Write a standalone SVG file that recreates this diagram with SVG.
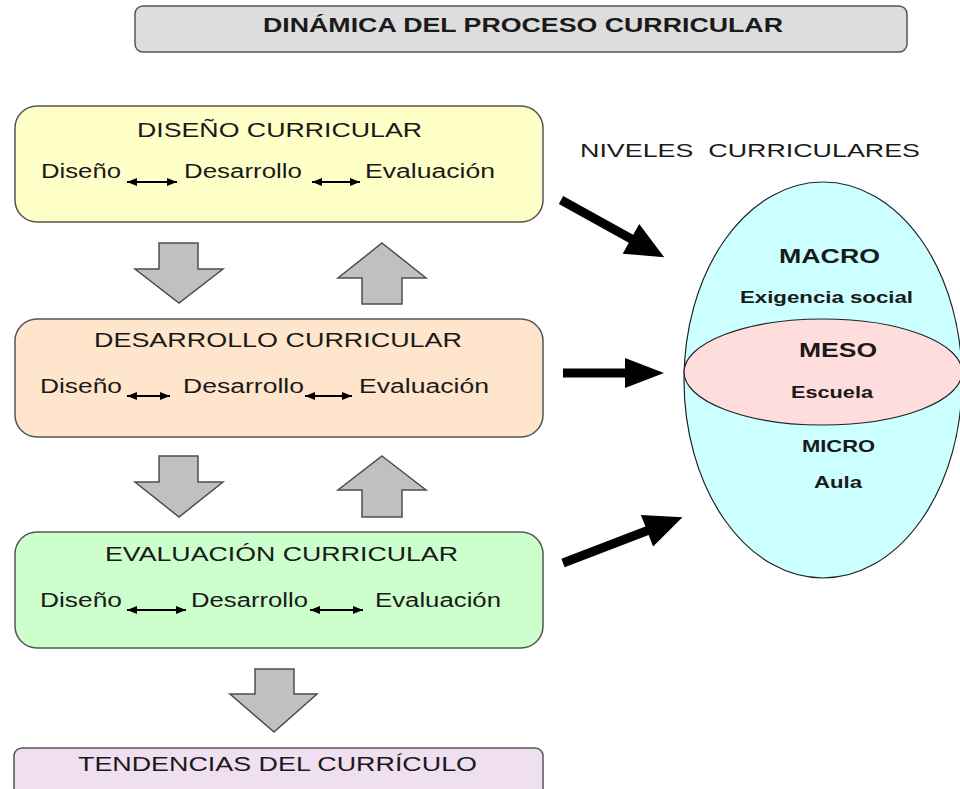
<svg xmlns="http://www.w3.org/2000/svg" width="960" height="789" viewBox="0 0 960 789">
<defs>
<style>
text{font-family:"Liberation Sans",Arial,sans-serif;fill:#1a1a1a}
.t{font-size:21px}
.r{font-size:20px}
.b{font-weight:bold}
.box{stroke:#555;stroke-width:1.5}
.blk{fill:#c0c0c0;stroke:#4d4d4d;stroke-width:1.5;stroke-linejoin:miter}
.big{fill:#000}
.dbl{stroke:#000;stroke-width:2;marker-start:url(#ah);marker-end:url(#ah)}
.ell{stroke:#222;stroke-width:1.2}
</style>
<marker id="ah" viewBox="0 0 10 8" markerWidth="10" markerHeight="8" refX="10" refY="4" markerUnits="userSpaceOnUse" orient="auto-start-reverse">
<path d="M0,0 L10,4 L0,8 z" fill="#000"/>
</marker>
</defs>
<rect width="960" height="789" fill="#fff"/>

<g id="title">
<rect class="box" x="135" y="6" width="772" height="46" rx="8" fill="#dddddd"/>
<text class="b" x="263" y="32" font-size="20" textLength="520" lengthAdjust="spacingAndGlyphs">DINÁMICA DEL PROCESO CURRICULAR</text>
</g>

<g id="diseno">
<rect class="box" x="15" y="106" width="528" height="116" rx="22" fill="#ffffc8"/>
<text class="t" x="137" y="137" textLength="285" lengthAdjust="spacingAndGlyphs">DISEÑO CURRICULAR</text>
<text class="r" x="41" y="178" textLength="80" lengthAdjust="spacingAndGlyphs">Diseño</text>
<text class="r" x="184" y="178" textLength="118" lengthAdjust="spacingAndGlyphs">Desarrollo</text>
<text class="r" x="365" y="178" textLength="130" lengthAdjust="spacingAndGlyphs">Evaluación</text>
<line class="dbl" x1="127" y1="182" x2="177" y2="182"/>
<line class="dbl" x1="312" y1="182" x2="360" y2="182"/>
</g>

<g id="desarrollo">
<rect class="box" x="15" y="319" width="528" height="118" rx="22" fill="#ffe5cc"/>
<text class="t" x="94" y="347" textLength="368" lengthAdjust="spacingAndGlyphs">DESARROLLO CURRICULAR</text>
<text class="r" x="40" y="393" textLength="82" lengthAdjust="spacingAndGlyphs">Diseño</text>
<text class="r" x="183" y="393" textLength="121" lengthAdjust="spacingAndGlyphs">Desarrollo</text>
<text class="r" x="359" y="393" textLength="130" lengthAdjust="spacingAndGlyphs">Evaluación</text>
<line class="dbl" x1="127" y1="396" x2="170" y2="396"/>
<line class="dbl" x1="305" y1="396" x2="352" y2="396"/>
</g>

<g id="evaluacion">
<rect class="box" x="15" y="532" width="528" height="116" rx="22" fill="#ccffcc"/>
<text class="t" x="105" y="561" textLength="353" lengthAdjust="spacingAndGlyphs">EVALUACIÓN CURRICULAR</text>
<text class="r" x="40" y="607" textLength="82" lengthAdjust="spacingAndGlyphs">Diseño</text>
<text class="r" x="191" y="607" textLength="117" lengthAdjust="spacingAndGlyphs">Desarrollo</text>
<text class="r" x="375" y="607" textLength="126" lengthAdjust="spacingAndGlyphs">Evaluación</text>
<line class="dbl" x1="127" y1="610" x2="186" y2="610"/>
<line class="dbl" x1="310" y1="610" x2="363" y2="610"/>
</g>

<g id="tendencias">
<rect class="box" x="14" y="748" width="529" height="70" rx="8" fill="#f0dff0"/>
<text class="t" x="78" y="771" textLength="399" lengthAdjust="spacingAndGlyphs">TENDENCIAS DEL CURRÍCULO</text>
</g>

<g id="niveles-label">
<text x="580" y="157" font-size="19" style="white-space:pre" textLength="340" lengthAdjust="spacingAndGlyphs">NIVELES  CURRICULARES</text>
</g>

<g id="niveles">
<ellipse class="ell" cx="823" cy="380" rx="139" ry="198" fill="#ccffff"/>
<text class="b" x="779" y="263" font-size="20" textLength="101" lengthAdjust="spacingAndGlyphs">MACRO</text>
<text class="b" x="740" y="303" font-size="16" textLength="173" lengthAdjust="spacingAndGlyphs">Exigencia social</text>
<ellipse class="ell" cx="823" cy="372" rx="139" ry="53" fill="#ffdddd"/>
<text class="b" x="799" y="357" font-size="20" textLength="78" lengthAdjust="spacingAndGlyphs">MESO</text>
<text class="b" x="791" y="398" font-size="17" textLength="82" lengthAdjust="spacingAndGlyphs">Escuela</text>
<text class="b" x="802" y="452" font-size="17" textLength="73" lengthAdjust="spacingAndGlyphs">MICRO</text>
<text class="b" x="814" y="488" font-size="17" textLength="48" lengthAdjust="spacingAndGlyphs">Aula</text>
</g>

<g id="connectors">
<polygon class="blk" points="159,243 198,243 198,269 223,269 179,303 135,269 159,269"/>
<polygon class="blk" points="382,243 426,278 402,278 402,304 362,304 362,278 338,278"/>
<polygon class="blk" points="159,456 198,456 198,482 223,482 179,517 135,482 159,482"/>
<polygon class="blk" points="382,456 426,490 402,490 402,517 362,517 362,490 338,490"/>
<polygon class="blk" points="255,669 294,669 294,694 317,694 274,732 230,694 255,694"/>
<polygon class="big" transform="translate(561,200) rotate(29)" points="0,-4.5 80,-4.5 80,-17 118,0 80,17 80,4.5 0,4.5"/>
<polygon class="big" points="563,368.5 625,368.5 625,358 664,373 625,388 625,377.5 563,377.5"/>
<polygon class="big" transform="translate(563,563) rotate(-21)" points="0,-4.5 90,-4.5 90,-17 128,0 90,17 90,4.5 0,4.5"/>
</g>
</svg>
